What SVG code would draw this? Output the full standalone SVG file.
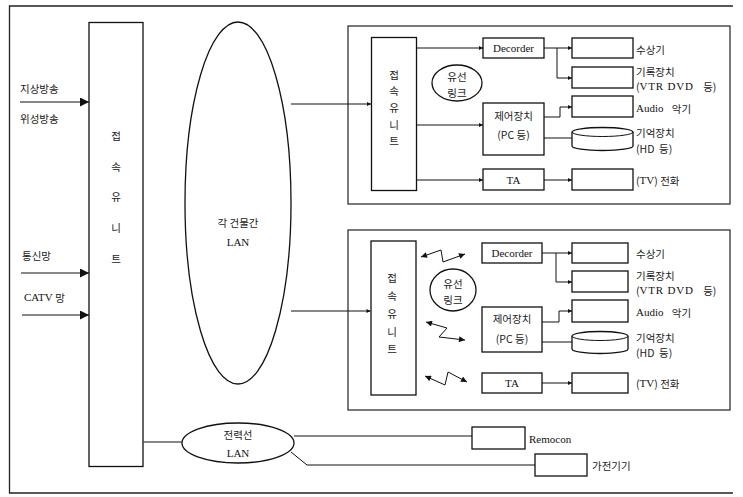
<svg xmlns="http://www.w3.org/2000/svg" width="743" height="497" viewBox="0 0 743 497">
<style>
.b{fill:#fff;stroke:#111;stroke-width:1.3}
.l{fill:none;stroke:#111;stroke-width:1}
.t{font-family:"Liberation Serif","Noto Sans CJK KR",serif;font-size:11px;fill:#111;dominant-baseline:central}
.k{font-family:"Noto Sans CJK KR","Liberation Sans",sans-serif;font-size:10.5px;fill:#222;dominant-baseline:central}
.m{text-anchor:middle}
.p{white-space:pre}
</style>
<defs>
<marker id="big" viewBox="0 0 10 10" refX="10" refY="5" markerWidth="11" markerHeight="9" markerUnits="userSpaceOnUse" orient="auto"><path d="M0,0L10,5L0,10z" fill="#111"/></marker>
<marker id="sm" viewBox="0 0 10 10" refX="10" refY="5" markerWidth="5" markerHeight="4" markerUnits="userSpaceOnUse" orient="auto"><path d="M0,0L10,5L0,10z" fill="#111"/></marker>
<marker id="zz" viewBox="0 0 10 10" refX="10" refY="5" markerWidth="7" markerHeight="6" markerUnits="userSpaceOnUse" orient="auto-start-reverse"><path d="M0,0L10,5L0,10z" fill="#111"/></marker>
</defs>
<rect width="743" height="497" fill="#fff"/>
<path d="M733,6H9.5V493H733" fill="none" stroke="#222" stroke-width="1.3"/>

<g id="inputs">
<text class="k" x="20" y="88">지상방송</text>
<text class="k" x="20" y="118">위성방송</text>
<text class="k" x="22" y="255">통신망</text>
<text class="t" x="24" y="297" font-size="10">CATV <tspan class="k">망</tspan></text>
</g>

<g id="main-unit">
<rect class="b" x="89" y="22.5" width="54" height="444"/>
<text class="k m" x="116" y="135">접</text>
<text class="k m" x="116" y="166">속</text>
<text class="k m" x="116" y="196">유</text>
<text class="k m" x="116" y="227">니</text>
<text class="k m" x="116" y="258">트</text>
</g>

<g id="building-lan">
<ellipse class="b" cx="238" cy="203" rx="53" ry="181"/>
<text class="k m" x="238" y="222">각 건물간</text>
<text class="t m" x="238" y="242">LAN</text>
</g>

<g id="house1">
<rect x="348" y="26" width="382" height="178" fill="none" stroke="#222" stroke-width="1.2"/>
<g id="h1-unit">
<rect class="b" x="371.5" y="37.5" width="45" height="153"/>
<text class="k m" x="394" y="74">접</text>
<text class="k m" x="394" y="90">속</text>
<text class="k m" x="394" y="107">유</text>
<text class="k m" x="394" y="124">니</text>
<text class="k m" x="394" y="140">트</text>
</g>
<g id="h1-link"><ellipse class="b" cx="457" cy="83" rx="25" ry="18"/><text class="k m" x="457" y="76" font-size="9.5">유선</text><text class="k m" x="457" y="92" font-size="9.5">링크</text></g>
<g id="h1-dec"><rect class="b" x="483" y="38" width="61" height="20"/><text class="t m" x="513.5" y="48" font-size="9.5">Decorder</text></g>
<g id="h1-ctrl"><rect class="b" x="483" y="103" width="61" height="52"/><text class="k m" x="513.5" y="115">제어장치</text><text class="k m" x="513.5" y="134">(PC 등)</text></g>
<g id="h1-ta"><rect class="b" x="483" y="169" width="61" height="21"/><text class="t m" x="513.5" y="180" font-size="10">TA</text></g>
<g id="h1-tv"><rect class="b" x="572" y="38" width="61" height="20"/><text class="k" x="636" y="49">수상기</text></g>
<g id="h1-rec"><rect class="b" x="572" y="67" width="61" height="21"/><text class="k" x="636" y="71" font-size="10">기록장치</text><text class="k p" x="636" y="86" font-size="10">(<tspan class="t" font-size="10" letter-spacing="0.8">VTR DVD</tspan>    등)</text></g>
<g id="h1-audio"><rect class="b" x="572" y="96" width="61" height="21"/><text class="t p" x="636" y="108" font-size="10">Audio   <tspan class="k">악기</tspan></text></g>
<g id="h1-hd"><path class="b" d="M572,132A30.5,4.5 0 0 1 633,132V146A30.5,4.5 0 0 1 572,146Z"/><path class="l" d="M572,132A30.5,4.5 0 0 0 633,132"/><text class="k" x="636" y="132">기억장치</text><text class="k p" x="636" y="148">(HD  등)</text></g>
<g id="h1-phone"><rect class="b" x="572" y="169" width="61" height="21"/><text class="k" x="636" y="180">(<tspan class="t" font-size="10">TV</tspan>) 전화</text></g>
</g>

<g id="house2">
<rect x="348" y="230" width="382" height="180" fill="none" stroke="#222" stroke-width="1.2"/>
<g id="h2-unit">
<rect class="b" x="371" y="241" width="45" height="154"/>
<text class="k m" x="392" y="277">접</text>
<text class="k m" x="392" y="295">속</text>
<text class="k m" x="392" y="313">유</text>
<text class="k m" x="392" y="331">니</text>
<text class="k m" x="392" y="348">트</text>
</g>
<g id="h2-link"><ellipse class="b" cx="453" cy="290" rx="23" ry="21"/><text class="k m" x="453" y="283" font-size="9.5">유선</text><text class="k m" x="453" y="299" font-size="9.5">링크</text></g>
<g id="h2-dec"><rect class="b" x="482" y="243" width="60" height="20"/><text class="t m" x="512" y="253" font-size="9.5">Decorder</text></g>
<g id="h2-ctrl"><rect class="b" x="482" y="307" width="60" height="45"/><text class="k m" x="512" y="318">제어장치</text><text class="k m" x="512" y="338">(PC 등)</text></g>
<g id="h2-ta"><rect class="b" x="482" y="373" width="60" height="20"/><text class="t m" x="512" y="383" font-size="10">TA</text></g>
<g id="h2-tv"><rect class="b" x="572" y="243" width="56" height="20"/><text class="k" x="636" y="253">수상기</text></g>
<g id="h2-rec"><rect class="b" x="572" y="271" width="56" height="21"/><text class="k" x="636" y="275" font-size="10">기록장치</text><text class="k p" x="636" y="290" font-size="10">(<tspan class="t" font-size="10" letter-spacing="0.8">VTR DVD</tspan>    등)</text></g>
<g id="h2-audio"><rect class="b" x="572" y="300" width="56" height="22"/><text class="t p" x="636" y="312" font-size="10">Audio   <tspan class="k">악기</tspan></text></g>
<g id="h2-hd"><path class="b" d="M572,336A28,4.5 0 0 1 628,336V349A28,4.5 0 0 1 572,349Z"/><path class="l" d="M572,336A28,4.5 0 0 0 628,336"/><text class="k" x="636" y="337">기억장치</text><text class="k p" x="636" y="352">(HD  등)</text></g>
<g id="h2-phone"><rect class="b" x="572" y="373" width="56" height="20"/><text class="k" x="636" y="383">(<tspan class="t" font-size="10">TV</tspan>) 전화</text></g>
</g>

<g id="power-lan">
<ellipse class="b" cx="238" cy="443" rx="56" ry="20"/>
<text class="k m" x="238" y="434">전력선</text>
<text class="t m" x="238" y="453">LAN</text>
</g>
<g id="remocon"><rect class="b" x="472" y="427" width="53" height="22"/><text class="t" x="529" y="439" font-size="9.5">Remocon</text></g>
<g id="appliance"><rect class="b" x="535" y="454" width="52" height="22"/><text class="k" x="592" y="465">가전기기</text></g>

<g id="connectors">
<path class="l" d="M20,102H89" marker-end="url(#big)" stroke-width="1.6"/>
<path class="l" d="M21,273H89" marker-end="url(#big)" stroke-width="1.6"/>
<path class="l" d="M22,315H89" marker-end="url(#big)" stroke-width="1.6"/>
<path class="l" d="M143.6,442H182"/>
<path class="l" d="M291,104H371" marker-end="url(#sm)"/>
<path class="l" d="M291,311H370.5" marker-end="url(#sm)"/>
<path class="l" d="M417,48H483" marker-end="url(#sm)"/>
<path class="l" d="M417,125H483" marker-end="url(#sm)"/>
<path class="l" d="M417,180H483" marker-end="url(#sm)"/>
<path class="l" d="M544,48H572" marker-end="url(#sm)"/>
<path class="l" d="M557,48V78H572" marker-end="url(#sm)"/>
<path class="l" d="M544,117H560V107H572" marker-end="url(#sm)"/>
<path class="l" d="M544,138H572"/>
<path class="l" d="M544,180H572" marker-end="url(#sm)"/>
<path class="l" d="M542,253H572" marker-end="url(#sm)"/>
<path class="l" d="M556,253V282H572" marker-end="url(#sm)"/>
<path class="l" d="M542,322H559V311H572" marker-end="url(#sm)"/>
<path class="l" d="M542,342H572"/>
<path class="l" d="M542,383H572" marker-end="url(#sm)"/>
<path class="l" d="M421,257L441,250L443,262L465,254" stroke-width="1.7" marker-start="url(#zz)" marker-end="url(#zz)"/>
<path class="l" d="M426,322L447,328L439,337L465,340" stroke-width="1.7" marker-start="url(#zz)" marker-end="url(#zz)"/>
<path class="l" d="M425,376L445,385L448,372L467,382" stroke-width="1.7" marker-start="url(#zz)" marker-end="url(#zz)"/>
<path class="l" d="M294,436H472"/>
<path class="l" d="M291,452L307,465H535"/>
</g>
</svg>
